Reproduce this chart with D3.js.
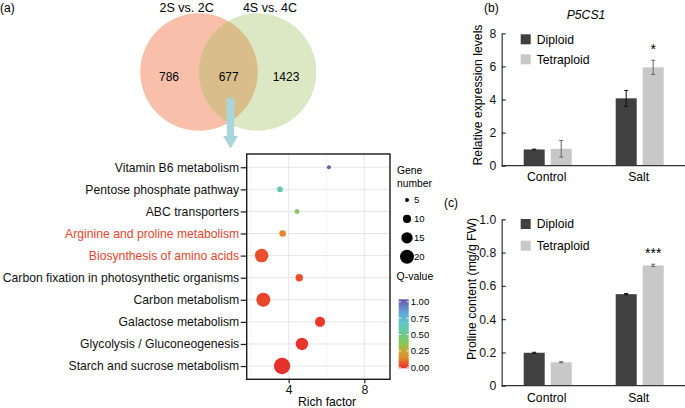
<!DOCTYPE html>
<html>
<head>
<meta charset="utf-8">
<script src="https://cdn.jsdelivr.net/npm/d3@7"></script>
<style>
  body { margin: 0; background: #fff; }
  svg { font-family: "Liberation Sans", Arial, sans-serif; }
</style>
</head>
<body>
<svg id="fig" width="685" height="408"></svg>
<script>
// Data
const vennSets = ["2S vs. 2C", "4S vs. 4C"];
const vennCounts = [786, 677, 1423];   // only left, shared, only right

const pathways = ["Vitamin B6 metabolism", "Pentose phosphate pathway", "ABC transporters",
    "Arginine and proline metabolism", "Biosynthesis of amino acids",
    "Carbon fixation in photosynthetic organisms", "Carbon metabolism",
    "Galactose metabolism", "Glycolysis / Gluconeogenesis", "Starch and sucrose metabolism"];
const richFactor = [6.13, 3.54, 4.44, 3.68, 2.57, 4.56, 2.66, 5.66, 4.70, 3.65];
const geneNumber = [5, 7, 6, 8, 19, 9, 20, 13, 17, 25];
const qValue = [0.97, 0.58, 0.38, 0.15, 0.06, 0.06, 0.04, 0.02, 0.01, 0.0];
const highlighted = ["Arginine and proline metabolism", "Biosynthesis of amino acids"];
const richTicks = [4, 8];
const sizeBreaks = [5, 10, 15, 20];
const qBreaks = [0, 0.25, 0.5, 0.75, 1];

const groups = ["Control", "Salt"];
const series = ["Diploid", "Tetraploid"];
const p5csMean = [[0.98, 1.02], [4.07, 5.94]];  // [group][series]
const p5csErr = [[0.02, 0.5], [0.48, 0.43]];
const p5csTicks = [0, 2, 4, 6, 8];
const prolineMean = [[0.198, 0.141], [0.550, 0.723]];
const prolineErr = [[0.003, 0.003], [0.004, 0.007]];
const prolineTicks = [0, 0.2, 0.4, 0.6, 0.8, 1.0];
const signif = [["", ""], ["", "*"]];
const signifC = [["", ""], ["", "***"]];

/**************************************************************************************************/
const svg = d3.select("#fig");
const FS = 12.2;
const axisCol = "#333";

/* Panel letters */
svg.append("text").attr("x", 0).attr("y", 12).attr("font-size", 12).text("(a)");
svg.append("text").attr("x", 484).attr("y", 12).attr("font-size", 12).text("(b)");
svg.append("text").attr("x", 444).attr("y", 207).attr("font-size", 12).text("(c)");

/* Venn diagram */
const venn = svg.append("g");
const cL = { x: 199, y: 72 }, cR = { x: 257.5, y: 72 }, rad = 58.8;
venn.append("defs").append("clipPath").attr("id", "clipL")
    .append("circle").attr("cx", cL.x).attr("cy", cL.y).attr("r", rad);
venn.append("circle").attr("cx", cL.x).attr("cy", cL.y).attr("r", rad).attr("fill", "#f8c0ab");
venn.append("circle").attr("cx", cR.x).attr("cy", cR.y).attr("r", rad).attr("fill", "#dbe8c3");
venn.append("circle").attr("cx", cR.x).attr("cy", cR.y).attr("r", rad).attr("fill", "#d9be8c")
    .attr("clip-path", "url(#clipL)");
venn.selectAll("text.set")
    .data(vennSets)
    .join("text")
        .attr("class", "set")
        .attr("x", (d, i) => i === 0 ? 186.7 : 270)
        .attr("y", 12)
        .attr("text-anchor", "middle")
        .attr("font-size", 12.5)
        .text(d => d);
venn.selectAll("text.count")
    .data(vennCounts)
    .join("text")
        .attr("class", "count")
        .attr("x", (d, i) => [169, 228.7, 286][i])
        .attr("y", 80.5)
        .attr("text-anchor", "middle")
        .attr("font-size", 12)
        .text(d => d);
// arrow down to the enrichment plot
venn.append("path")
    .attr("d", "M226.8,98 H234.2 V136 H238 L230.5,148.5 L223,136 H226.8 Z")
    .attr("fill", "#a9d5dd");

/**************************************************************************************************/
/* KEGG enrichment bubble plot */
const panel = { left: 246.7, right: 390, top: 154, bottom: 379.3 };
const x = d3.scaleLinear().domain([1.78, 9.36]).range([panel.left, panel.right]);
const y = d3.scalePoint().domain(pathways).range([panel.top, panel.bottom]).padding(0.6);
const size = d3.scaleSqrt().domain([5, 20]).range([2, 7]);
const qColor = d3.scaleLinear()
    .domain([0, 0.08, 0.15, 0.25, 0.35, 0.5, 0.65, 0.8, 0.9, 1])
    .range(["#e5302c", "#ea5a28", "#e08a2c", "#c8a832", "#8cc850", "#6cc890",
            "#60c8c8", "#62a8da", "#6a80c4", "#6152a8"]);

const dots = svg.append("g");
dots.append("g").selectAll("line")
    .data([2, 6])
    .join("line")
        .attr("x1", d => x(d)).attr("x2", d => x(d))
        .attr("y1", panel.top).attr("y2", panel.bottom)
        .attr("stroke", "#f0f0f0").attr("stroke-width", 0.7);
dots.append("g").selectAll("line")
    .data(richTicks)
    .join("line")
        .attr("x1", d => x(d)).attr("x2", d => x(d))
        .attr("y1", panel.top).attr("y2", panel.bottom)
        .attr("stroke", "#e6e6e6").attr("stroke-width", 1);
dots.append("g").selectAll("line")
    .data(pathways)
    .join("line")
        .attr("x1", panel.left).attr("x2", panel.right)
        .attr("y1", d => y(d)).attr("y2", d => y(d))
        .attr("stroke", "#e6e6e6").attr("stroke-width", 1);

dots.append("g").selectAll("circle")
    .data(pathways.map((p, i) => ({ p, rf: richFactor[i], n: geneNumber[i], q: qValue[i] })))
    .join("circle")
        .attr("cx", d => x(d.rf))
        .attr("cy", d => y(d.p))
        .attr("r", d => size(d.n))
        .attr("fill", d => qColor(d.q));

dots.append("rect")
    .attr("x", panel.left).attr("y", panel.top)
    .attr("width", panel.right - panel.left).attr("height", panel.bottom - panel.top)
    .attr("fill", "none").attr("stroke", "#1a1a1a").attr("stroke-width", 1.4);

const yAx = dots.append("g")
    .attr("transform", `translate(${panel.left},0)`)
    .call(d3.axisLeft(y).tickSize(6).tickPadding(1.5).tickSizeOuter(0));
yAx.select(".domain").remove();
yAx.selectAll("line").attr("stroke", "#1a1a1a").attr("stroke-width", 1.2);
yAx.selectAll("text")
    .attr("font-size", FS)
    .attr("font-family", "Liberation Sans, Arial, sans-serif")
    .attr("fill", d => highlighted.includes(d) ? "#e8452c" : "#111");

const xAx = dots.append("g")
    .attr("transform", `translate(0,${panel.bottom})`)
    .call(d3.axisBottom(x).tickValues(richTicks).tickSize(4).tickPadding(2).tickFormat(d3.format("d")));
xAx.select(".domain").remove();
xAx.selectAll("line").attr("stroke", "#1a1a1a").attr("stroke-width", 1.2);
xAx.selectAll("text").attr("font-size", FS).attr("font-family", "Liberation Sans, Arial, sans-serif")
    .attr("fill", "#111");
dots.append("text").attr("x", 327).attr("y", 405.5).attr("text-anchor", "middle")
    .attr("font-size", FS).text("Rich factor");

/* legends */
const leg = svg.append("g");
leg.append("text").attr("x", 397).attr("y", 174).attr("font-size", 10.3).text("Gene");
leg.append("text").attr("x", 397).attr("y", 187).attr("font-size", 10.3).text("number");
const sizeY = d3.scalePoint().domain(sizeBreaks).range([200, 256.7]);
leg.selectAll("circle")
    .data(sizeBreaks)
    .join("circle")
        .attr("cx", 407).attr("cy", d => sizeY(d)).attr("r", d => size(d)).attr("fill", "#000");
leg.selectAll("text.sz")
    .data(sizeBreaks)
    .join("text")
        .attr("class", "sz")
        .attr("x", 414).attr("y", d => sizeY(d) + 3.4)
        .attr("font-size", 9.5).text(d => d);

leg.append("text").attr("x", 396.5).attr("y", 280).attr("font-size", 10.5).text("Q-value");
const qY = d3.scaleLinear().domain([0, 1]).range([367.3, 301.7]);
const grad = svg.append("defs").append("linearGradient")
    .attr("id", "qgrad").attr("x1", 0).attr("y1", 1).attr("x2", 0).attr("y2", 0);
grad.selectAll("stop")
    .data(d3.range(0, 1.001, 0.05))
    .join("stop")
        .attr("offset", d => d)
        .attr("stop-color", d => qColor(d));
leg.append("rect").attr("x", 398.7).attr("y", 299.3).attr("width", 10).attr("height", 69)
    .attr("fill", "url(#qgrad)");
leg.selectAll("line.qt")
    .data(qBreaks)
    .join("line")
        .attr("class", "qt")
        .attr("x1", 398.7).attr("x2", 401)
        .attr("y1", d => qY(d)).attr("y2", d => qY(d))
        .attr("stroke", "#fff").attr("stroke-width", 0.8);
leg.selectAll("line.qt2")
    .data(qBreaks)
    .join("line")
        .attr("class", "qt2")
        .attr("x1", 406.4).attr("x2", 408.7)
        .attr("y1", d => qY(d)).attr("y2", d => qY(d))
        .attr("stroke", "#fff").attr("stroke-width", 0.8);
leg.selectAll("text.qv")
    .data(qBreaks)
    .join("text")
        .attr("class", "qv")
        .attr("x", 410.7).attr("y", d => qY(d) + 3.4)
        .attr("font-size", 9.5).text(d3.format(".2f"));

/**************************************************************************************************/
/* Bar charts */
const barCol = ["#404040", "#c8c8c8"];
const errCol = ["#111", "#666"];

function barChart(opts) {
    const g = svg.append("g");
    const yS = d3.scaleLinear().domain(opts.domain).range([opts.bottom, opts.top]);
    const x0 = d3.scaleBand().domain(groups).range([501.7, 685.7]);
    const x1 = d3.scaleBand().domain(series).range([-24, 24]).paddingInner(0.2222);

    const data = [];
    groups.forEach((gr, i) => series.forEach((s, j) => {
        data.push({ gr, s, j, m: opts.mean[i][j], e: opts.err[i][j], sig: opts.sig[i][j] });
    }));
    const cx = d => x0(d.gr) + x0.bandwidth() / 2 + x1(d.s);

    g.selectAll("rect.bar")
        .data(data)
        .join("rect")
            .attr("class", "bar")
            .attr("x", cx)
            .attr("y", d => yS(d.m))
            .attr("width", x1.bandwidth())
            .attr("height", d => yS(0) - yS(d.m))
            .attr("fill", d => barCol[d.j]);
    const eb = g.selectAll("g.err").data(data).join("g").attr("class", "err")
        .attr("stroke", d => errCol[d.j]).attr("stroke-width", 1);
    eb.append("line")
        .attr("x1", d => cx(d) + x1.bandwidth() / 2).attr("x2", d => cx(d) + x1.bandwidth() / 2)
        .attr("y1", d => yS(d.m - d.e)).attr("y2", d => yS(d.m + d.e));
    eb.append("line")
        .attr("x1", d => cx(d) + x1.bandwidth() / 2 - 2).attr("x2", d => cx(d) + x1.bandwidth() / 2 + 2)
        .attr("y1", d => yS(d.m + d.e)).attr("y2", d => yS(d.m + d.e));
    eb.append("line")
        .attr("x1", d => cx(d) + x1.bandwidth() / 2 - 2).attr("x2", d => cx(d) + x1.bandwidth() / 2 + 2)
        .attr("y1", d => yS(d.m - d.e)).attr("y2", d => yS(d.m - d.e));
    g.selectAll("text.sig")
        .data(data.filter(d => d.sig))
        .join("text")
            .attr("class", "sig")
            .attr("x", d => cx(d) + x1.bandwidth() / 2)
            .attr("y", d => yS(d.m + d.e) - 6)
            .attr("text-anchor", "middle")
            .attr("font-size", 14)
            .text(d => d.sig);

    const ax = g.append("g").attr("transform", "translate(501.7,0)")
        .call(d3.axisLeft(yS).tickValues(opts.ticks).tickSize(-4).tickSizeOuter(0).tickPadding(5.5)
            .tickFormat(d => d === 0 ? "0" : opts.fmt(d)));
    ax.select(".domain").attr("stroke", axisCol).attr("stroke-width", 1.2);
    ax.selectAll("line").attr("stroke", axisCol).attr("stroke-width", 1.2);
    ax.selectAll("text").attr("font-size", FS).attr("font-family", "Liberation Sans, Arial, sans-serif")
        .attr("fill", "#111");
    g.append("line").attr("x1", 501.7).attr("x2", 685).attr("y1", yS(0)).attr("y2", yS(0))
        .attr("stroke", axisCol).attr("stroke-width", 1.2);
    g.selectAll("text.cat")
        .data(groups)
        .join("text")
            .attr("class", "cat")
            .attr("x", d => x0(d) + x0.bandwidth() / 2 - 1)
            .attr("y", opts.catY)
            .attr("text-anchor", "middle")
            .attr("font-size", FS)
            .text(d => d);

    g.append("text")
        .attr("transform", `translate(${opts.titleX},${opts.titleY}) rotate(-90)`)
        .attr("text-anchor", "middle").attr("font-size", FS).text(opts.ytitle);

    series.forEach((s, j) => {
        g.append("rect").attr("x", 520.7).attr("y", opts.legY[j] - 5).attr("width", 10).attr("height", 10)
            .attr("fill", barCol[j]);
        g.append("text").attr("x", 536.7).attr("y", opts.legY[j] + 4.3).attr("font-size", FS).text(s);
    });
    return g;
}

barChart({
    domain: [0, 8], top: 33.3, bottom: 165.7, ticks: p5csTicks, fmt: d3.format("d"),
    mean: p5csMean, err: p5csErr, sig: signif, catY: 180.5,
    ytitle: "Relative expression levels", titleX: 482, titleY: 95, legY: [39.3, 59.3]
});
svg.append("text").attr("x", 586).attr("y", 18.5).attr("text-anchor", "middle")
    .attr("font-size", FS).attr("font-style", "italic").text("P5CS1");

barChart({
    domain: [0, 1], top: 219.3, bottom: 385.7, ticks: prolineTicks, fmt: d3.format(".1f"),
    mean: prolineMean, err: prolineErr, sig: signifC, catY: 401.5,
    ytitle: "Proline content (mg/g FW)", titleX: 476.3, titleY: 289, legY: [224, 245.7]
});
</script>
</body>
</html>
